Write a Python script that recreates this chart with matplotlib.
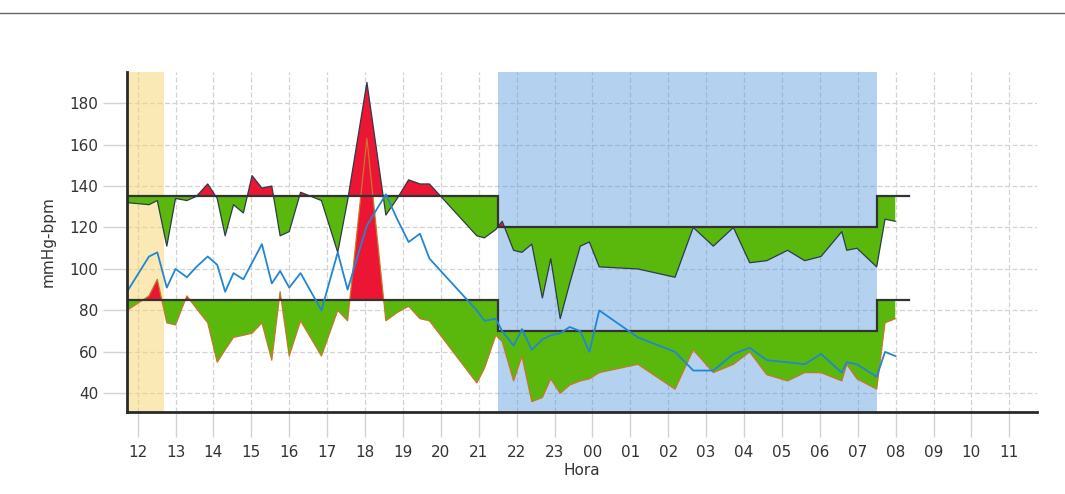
import numpy as np
import matplotlib.pyplot as plt
from matplotlib.lines import Line2D

# lecturas MAPA (hora continua: 24 = 00h del dia siguiente)
horas = [11.72, 12.30, 12.52, 12.77, 13.00, 13.30, 13.55, 13.85, 14.10, 14.31,
         14.53, 14.79, 15.02, 15.28, 15.54, 15.76, 16.00, 16.30, 16.85, 17.28,
         17.54, 18.05, 18.55, 18.85, 19.15, 19.45, 19.70, 20.95, 21.15, 21.45,
         21.62, 21.92, 22.14, 22.40, 22.68, 22.90, 23.15, 23.40, 23.68, 23.92,
         24.18, 25.20, 26.18, 26.66, 27.19, 27.72, 28.15, 28.60, 29.15, 29.60,
         30.03, 30.58, 30.71, 30.98, 31.50, 31.72, 31.99]
sistolica = [132, 131, 133, 111, 134, 133, 135, 141, 134, 116,
             131, 127, 145, 139, 140, 116, 118, 137, 133, 108,
             133, 190, 126, 134, 143, 141, 141, 116, 115, 119,
             123, 109, 108, 112, 86, 105, 76, 93, 111, 113,
             101, 100, 96, 120, 111, 120, 103, 104, 109, 104,
             106, 118, 109, 110, 101, 124, 123]
diastolica = [80, 87, 95, 74, 73, 87, 81, 74, 55, 61,
              67, 68, 69, 74, 56, 89, 58, 75, 58, 80,
              75, 163, 75, 79, 82, 76, 75, 45, 52, 68,
              65, 46, 58, 36, 38, 47, 40, 44, 46, 47,
              50, 54, 42, 61, 50, 54, 60, 49, 46, 50,
              50, 46, 54, 47, 42, 74, 76]
pulso = [89, 106, 108, 91, 100, 96, 101, 106, 102, 89,
         98, 95, 103, 112, 93, 99, 91, 98, 80, 108,
         90, 121, 136, 124, 113, 117, 105, 80, 75, 76,
         70, 63, 71, 61, 66, 68, 69, 72, 70, 60,
         80, 67, 60, 51, 51, 59, 62, 56, 55, 54,
         59, 50, 55, 54, 48, 60, 58]

# limites de referencia
sis_dia, sis_noche = 135, 120
dias_dia, dias_noche = 85, 70
noche_ini, noche_fin = 21.5, 31.5
bata_fin = 12.7
limite_fin = 32.35

horas_ticks = list(range(12, 36))
horas_labels = ["%02d" % (h % 24) for h in horas_ticks]
y_ticks = [40, 60, 80, 100, 120, 140, 160, 180]

VERDE = "#5ab80c"
ROJO = "#ec1534"


def limite(x, dia, noche):
    x = np.asarray(x)
    return np.where((x >= noche_ini) & (x < noche_fin), noche, dia)


def bandas(ax, t, y, dia, noche, borde):
    xs = np.union1d(np.linspace(t[0], t[-1], 6000), t)
    ys = np.interp(xs, t, y)
    th = limite(xs, dia, noche)
    ax.fill_between(xs, ys, th, where=ys <= th, interpolate=True,
                    color=VERDE, lw=0, zorder=2)
    ax.fill_between(xs, ys, th, where=ys >= th, interpolate=True,
                    color=ROJO, lw=0, zorder=2)
    ax.plot(t, y, color=borde, lw=0.9, zorder=3)
    lx = [t[0], noche_ini, noche_ini, noche_fin, noche_fin, limite_fin]
    ly = [dia, dia, noche, noche, dia, dia]
    ax.plot(lx, ly, color="#333333", lw=1.6, zorder=4, solid_joinstyle="miter")


fig = plt.figure(figsize=(10.65, 4.94), dpi=100)
ax = fig.add_axes([127 / 1065, 1 - 412 / 494, 910 / 1065, 340 / 494])

ax.set_xlim(horas[0], 35.73)
ax.set_ylim(31, 195)

ax.set_axisbelow(True)
ax.grid(True, color="#d2d2d2", lw=0.9, ls=(0, (4, 2)))

ax.axvspan(horas[0], bata_fin, color="#f7d46a", alpha=0.5, lw=0, zorder=1)
ax.axvspan(noche_ini, noche_fin, color="#5a9bde", alpha=0.45, lw=0, zorder=1)

bandas(ax, horas, sistolica, sis_dia, sis_noche, "#2d3b4a")
bandas(ax, horas, diastolica, dias_dia, dias_noche, "#c4782c")
ax.plot(horas, pulso, color="#2186d4", lw=1.3, zorder=5)

ax.set_xticks(horas_ticks)
ax.set_xticklabels(horas_labels)
ax.set_yticks(y_ticks)
ax.tick_params(axis="x", length=18, width=1, color="#d2d2d2", pad=6,
               labelsize=11, labelcolor="#333333")
ax.tick_params(axis="y", length=17, width=1, color="#d2d2d2", pad=3.5,
               labelsize=11, labelcolor="#333333")

for s in ["top", "right"]:
    ax.spines[s].set_visible(False)
for s in ["left", "bottom"]:
    ax.spines[s].set_color("#2a2a2a")
    ax.spines[s].set_linewidth(2)
    ax.spines[s].set_zorder(6)

ax.set_xlabel("Hora", fontsize=11, color="#333333")
ax.set_ylabel("mmHg-bpm", fontsize=11, color="#333333")
ax.xaxis.set_label_coords(0.5, -0.15)
ax.yaxis.set_label_coords(-0.078, 0.5)

fig.add_artist(Line2D([0, 1], [1 - 13 / 494, 1 - 13 / 494],
                      transform=fig.transFigure, color="#666666", lw=1))

fig.savefig("out.png", dpi=100)
